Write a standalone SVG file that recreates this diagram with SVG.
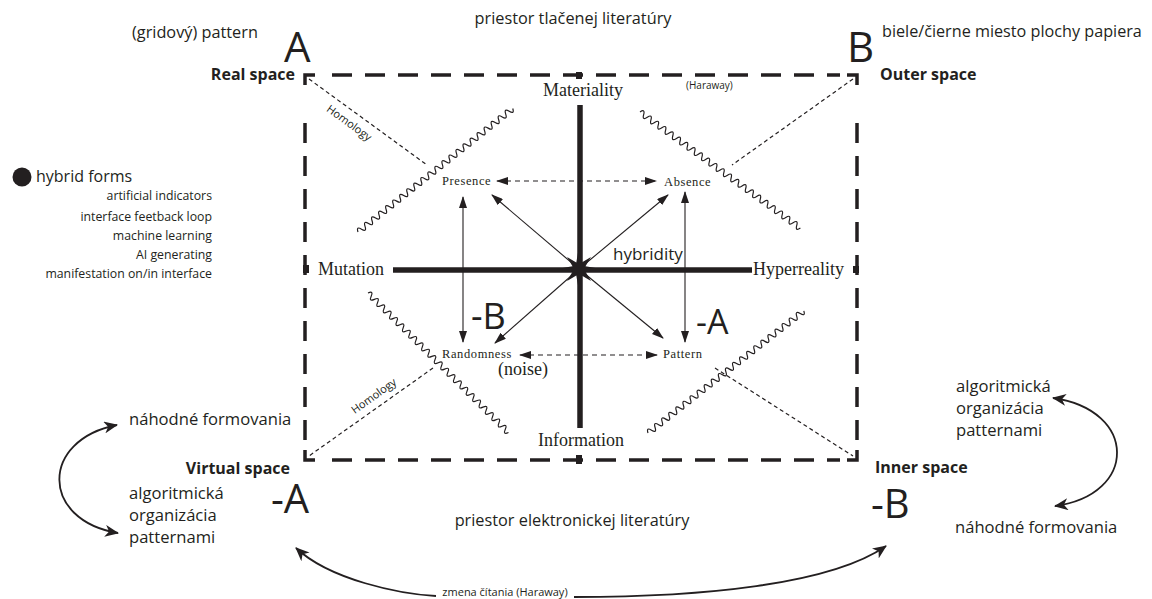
<svg xmlns="http://www.w3.org/2000/svg" width="1152" height="599" viewBox="0 0 1152 599">
<style>
.sans{font-family:"Open Sans","Noto Sans",sans-serif;fill:#231f20}
.bold{font-family:"Open Sans","Noto Sans",sans-serif;font-weight:bold;fill:#231f20}
.serif{font-family:"Liberation Serif","Times New Roman",serif;fill:#231f20}
.small{font-family:"Liberation Serif","Times New Roman",serif;fill:#231f20;font-size:12.5px;letter-spacing:0.6px}
.edge{stroke:#231f20;stroke-width:3.5;fill:none;stroke-dasharray:20 13}
.corner{stroke:#231f20;stroke-width:3.5;fill:none}
.axis{stroke:#231f20;stroke-width:5.5;fill:none}
.thin{stroke:#231f20;stroke-width:1.1;fill:none}
.dash{stroke:#231f20;stroke-width:1.1;fill:none;stroke-dasharray:5 4}
.hom{stroke:#231f20;stroke-width:1.2;fill:none;stroke-dasharray:4 3}
.wave{stroke:#231f20;stroke-width:1.2;fill:none}
.curve{stroke:#231f20;stroke-width:1.8;fill:none}
</style>
<defs>
<marker id="ah" viewBox="0 0 12 8" refX="11" refY="4" markerWidth="12" markerHeight="8" markerUnits="userSpaceOnUse" orient="auto-start-reverse">
<path d="M0,0 L12,4 L0,8 z" fill="#231f20"/>
</marker>
<marker id="ch" viewBox="0 0 14 12" refX="13" refY="6" markerWidth="14" markerHeight="12" markerUnits="userSpaceOnUse" orient="auto-start-reverse">
<path d="M0,0 L14,6 L0,12 L4,6 z" fill="#231f20"/>
</marker>
<path id="wv" class="wave" d="M0,0 q2.25,-6 4.5,0 t4.5,0 t4.5,0 t4.5,0 t4.5,0 t4.5,0 t4.5,0 t4.5,0 t4.5,0 t4.5,0 t4.5,0 t4.5,0 t4.5,0 t4.5,0 t4.5,0 t4.5,0 t4.5,0 t4.5,0 t4.5,0 t4.5,0 t4.5,0 t4.5,0 t4.5,0 t4.5,0 t4.5,0 t4.5,0 t4.5,0 t4.5,0 t4.5,0 t4.5,0 t4.5,0 t4.5,0 t4.5,0 t4.5,0 t4.5,0 t4.5,0 t4.5,0 t4.5,0 t4.5,0 t4.5,0 t4.5,0 t4.5,0 t4.5,0 t4.5,0"/>
</defs>
<rect width="1152" height="599" fill="#ffffff"/>

<g id="frame">
<line class="edge" x1="332" y1="75" x2="840" y2="75"/>
<line class="edge" x1="332" y1="460" x2="840" y2="460"/>
<line class="edge" x1="305" y1="123" x2="305" y2="440"/>
<line class="edge" x1="857" y1="123" x2="857" y2="440"/>
<path class="corner" d="M315,75 H305 V85"/>
<path class="corner" d="M847,75 H857 V85"/>
<path class="corner" d="M305,450 V460 H315"/>
<path class="corner" d="M857,450 V460 H847"/>
<rect x="576" y="72" width="6" height="7" fill="#231f20"/>
<rect x="576" y="455" width="6" height="9" fill="#231f20"/>
<rect x="303" y="265" width="6" height="8" fill="#231f20"/>
<rect x="853" y="266" width="6" height="7" fill="#231f20"/>
</g>

<g id="connectors">
<line class="axis" x1="580" y1="105" x2="580" y2="428"/>
<line class="axis" x1="393" y1="270" x2="752" y2="270"/>
<line class="thin" x1="579" y1="269" x2="492" y2="195" marker-end="url(#ah)"/>
<line class="thin" x1="579" y1="269" x2="668" y2="195" marker-end="url(#ah)"/>
<line class="thin" x1="579" y1="269" x2="495" y2="343" marker-end="url(#ah)"/>
<line class="thin" x1="579" y1="269" x2="663" y2="338" marker-end="url(#ah)"/>
<line class="thin" x1="463" y1="197" x2="463" y2="342" marker-start="url(#ah)" marker-end="url(#ah)"/>
<line class="thin" x1="685" y1="192" x2="685" y2="342" marker-start="url(#ah)" marker-end="url(#ah)"/>
<line class="dash" x1="497" y1="181" x2="656" y2="181" marker-start="url(#ah)" marker-end="url(#ah)"/>
<line class="dash" x1="520" y1="355" x2="657" y2="355" marker-start="url(#ah)" marker-end="url(#ah)"/>
<line class="hom" x1="309" y1="79" x2="427" y2="165"/>
<line class="hom" x1="853" y1="79" x2="732" y2="165"/>
<line class="hom" x1="433" y1="368" x2="309" y2="456"/>
<line class="hom" x1="715" y1="368" x2="853" y2="456"/>
<use href="#wv" transform="translate(358,232) rotate(-38.6)"/>
<use href="#wv" transform="translate(640,112) rotate(35.9)"/>
<use href="#wv" transform="translate(368,293) rotate(44.8)"/>
<use href="#wv" transform="translate(648,433) rotate(-38.1)"/>
<path class="curve" d="M117,425 C40,440 40,520 118,533" marker-start="url(#ch)" marker-end="url(#ch)"/>
<path class="curve" d="M1053,398 C1138,410 1138,495 1055,506" marker-start="url(#ch)" marker-end="url(#ch)"/>
<path class="curve" d="M436,596 C400,594 330,580 296,548" marker-end="url(#ch)"/>
<path class="curve" d="M574,597 C700,597 830,585 886,546" marker-end="url(#ch)"/>
</g>

<g id="hybridity-center">
<polygon fill="#231f20" points="601,269 585.5,271.7 591,281 581.7,275.5 579,291 576.3,275.5 567,281 572.5,271.7 557,269 572.5,266.3 567,257 576.3,262.5 579,247 581.7,262.5 591,257 585.5,266.3"/>
<text class="sans" x="613" y="260" font-size="17">hybridity</text>
</g>

<g id="materiality"><text class="serif" x="583" y="96" font-size="18" text-anchor="middle">Materiality</text></g>
<g id="information"><text class="serif" x="581" y="446" font-size="18" text-anchor="middle">Information</text></g>
<g id="mutation"><text class="serif" x="318" y="275" font-size="18">Mutation</text></g>
<g id="hyperreality"><text class="serif" x="753" y="275" font-size="18">Hyperreality</text></g>
<g id="presence"><text class="small" x="442" y="185">Presence</text></g>
<g id="absence"><text class="small" x="664" y="186">Absence</text></g>
<g id="randomness"><text class="small" x="442" y="358">Randomness</text><text class="serif" x="498" y="375" font-size="18">(noise)</text></g>
<g id="pattern"><text class="small" x="663" y="358">Pattern</text></g>
<g id="minusB-center"><text class="sans" x="471" y="329" font-size="36">-B</text></g>
<g id="minusA-center"><text class="sans" x="696" y="334" font-size="34">-A</text></g>
<g id="haraway-top"><text class="sans" x="686" y="89" font-size="10">(Haraway)</text></g>
<g id="homology-tl"><text class="sans" font-size="11" text-anchor="middle" transform="translate(347,126) rotate(36)">Homology</text></g>
<g id="homology-bl"><text class="sans" font-size="11" text-anchor="middle" transform="translate(376,399) rotate(-35.5)">Homology</text></g>

<g id="top-labels">
<text class="sans" x="573" y="24" font-size="16.3" text-anchor="middle">priestor tlačenej literatúry</text>
<text class="sans" x="132" y="38" font-size="16.3">(gridový) pattern</text>
<text class="sans" x="882" y="37" font-size="16.2">biele/čierne miesto plochy papiera</text>
</g>
<g id="corner-A"><text class="sans" x="284" y="62" font-size="42">A</text><text class="bold" x="295" y="80" font-size="16" text-anchor="end">Real space</text></g>
<g id="corner-B"><text class="sans" x="847" y="62" font-size="42">B</text><text class="bold" x="880" y="80" font-size="16">Outer space</text></g>
<g id="corner-minusA"><text class="bold" x="290" y="474" font-size="16" text-anchor="end">Virtual space</text><text class="sans" x="271" y="513" font-size="40">-A</text></g>
<g id="corner-minusB"><text class="bold" x="875" y="473" font-size="16">Inner space</text><text class="sans" x="871" y="518" font-size="40">-B</text></g>

<g id="hybrid-forms">
<circle cx="22" cy="177" r="9.5" fill="#231f20"/>
<text class="sans" x="36" y="182" font-size="16">hybrid forms</text>
<text class="sans" x="212" y="200" font-size="12.3" text-anchor="end">artificial indicators</text>
<text class="sans" x="212" y="221" font-size="12.3" text-anchor="end">interface feetback loop</text>
<text class="sans" x="212" y="240" font-size="12.3" text-anchor="end">machine learning</text>
<text class="sans" x="212" y="259" font-size="12.3" text-anchor="end">AI generating</text>
<text class="sans" x="212" y="278" font-size="12.3" text-anchor="end">manifestation on/in interface</text>
</g>

<g id="left-bottom">
<text class="sans" x="129" y="425" font-size="16.6">náhodné formovania</text>
<text class="sans" x="129" y="499" font-size="16.6">algoritmická</text>
<text class="sans" x="129" y="521" font-size="16.6">organizácia</text>
<text class="sans" x="129" y="543" font-size="16.6">patternami</text>
</g>
<g id="right-bottom">
<text class="sans" x="956" y="392" font-size="16.6">algoritmická</text>
<text class="sans" x="956" y="414" font-size="16.6">organizácia</text>
<text class="sans" x="956" y="436" font-size="16.6">patternami</text>
<text class="sans" x="955" y="533" font-size="16.6">náhodné formovania</text>
</g>
<g id="bottom-labels">
<text class="sans" x="572" y="526" font-size="16.3" text-anchor="middle">priestor elektronickej literatúry</text>
<text class="sans" x="505" y="596" font-size="11" text-anchor="middle">zmena čítania (Haraway)</text>
</g>
</svg>
